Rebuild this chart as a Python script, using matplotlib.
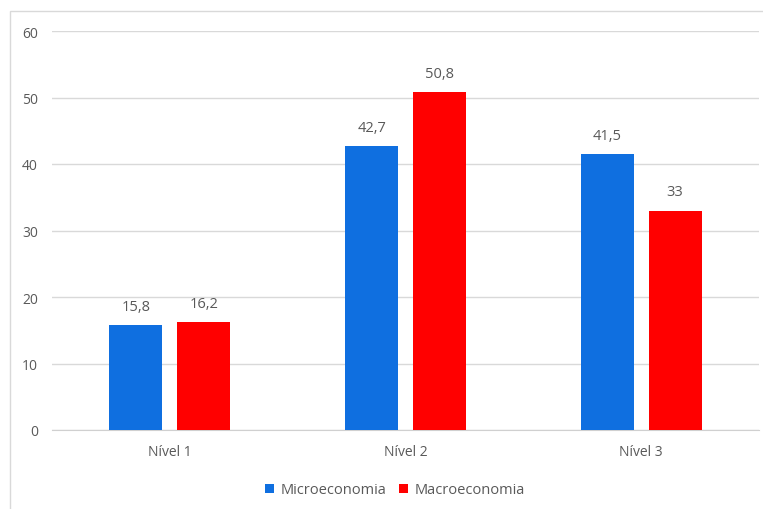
import matplotlib.pyplot as plt
import numpy as np
from matplotlib.patches import Rectangle

# dados
niveis = ["Nível 1", "Nível 2", "Nível 3"]
micro = [15.8, 42.7, 41.5]
macro = [16.2, 50.8, 33]
micro_labels = ["15,8", "42,7", "41,5"]
macro_labels = ["16,2", "50,8", "33"]

plt.rcParams["font.family"] = ["Open Sans", "DejaVu Sans"]
txt = "#595959"

fig = plt.figure(figsize=(7.63, 5.10), dpi=100)
ax = fig.add_axes([52 / 763, 1 - 431 / 510, 707 / 763, 399 / 510])

# moldura do gráfico (só as bordas esquerda e superior ficam visíveis)
fig.patches.append(Rectangle((10 / 763, -0.1), 0.99, 1.1 - 12 / 510,
                             transform=fig.transFigure, fill=False,
                             edgecolor="#d9d9d9", linewidth=1))

x = np.arange(len(niveis))
w = 0.225
off = 0.144
b1 = ax.bar(x - off, micro, w, color="#0f6fe0", label="Microeconomia", zorder=3)
b2 = ax.bar(x + off, macro, w, color="#ff0000", label="Macroeconomia", zorder=3)

for bars, labs in ((b1, micro_labels), (b2, macro_labels)):
    for b, l in zip(bars, labs):
        ax.annotate(l, (b.get_x() + b.get_width() / 2, b.get_height()),
                    xytext=(0, 8), textcoords="offset points",
                    ha="center", va="bottom", fontsize=10.5, color=txt)

ax.set_xlim(-0.5, 2.5)
ax.set_ylim(0, 60)
ax.set_yticks(range(0, 61, 10))
ax.set_xticks(x)
ax.set_xticklabels(niveis)
ax.grid(axis="y", color="#d9d9d9", linewidth=1, zorder=0)
for s in ("top", "right", "left"):
    ax.spines[s].set_visible(False)
ax.spines["bottom"].set_color("#d0d0d0")
ax.tick_params(axis="both", length=0, labelsize=10, colors=txt)
ax.tick_params(axis="x", pad=10)
ax.tick_params(axis="y", pad=10)

fig.legend(handles=[b1, b2], loc="center", bbox_to_anchor=(395 / 763, 1 - 491 / 510),
           ncol=2, frameon=False, fontsize=10.5, handlelength=0.6,
           handleheight=0.6, handletextpad=0.45, columnspacing=0.9,
           labelcolor=txt)

fig.savefig("out.png", dpi=100)
